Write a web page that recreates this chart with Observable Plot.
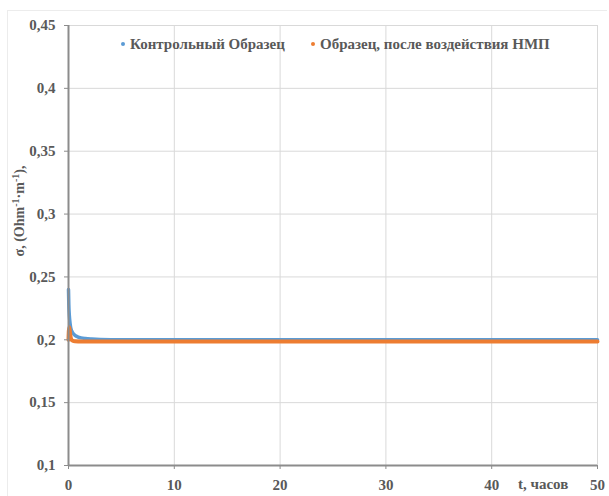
<!DOCTYPE html>
<html>
<head>
<meta charset="utf-8">
<script src="https://cdn.jsdelivr.net/npm/d3@7"></script>
<script src="https://cdn.jsdelivr.net/npm/@observablehq/plot@0.6"></script>
<style>
  html, body { margin: 0; padding: 0; background: #fff; }
  #wrap { position: relative; width: 609px; height: 496px; }
  #frame { position: absolute; left: 7px; top: 10px; width: 600px; height: 486px; border: 1px solid #ececec; border-bottom: none; border-right: none; box-sizing: border-box; }
  #chart { position: absolute; left: 0; top: 0; }
  #chart svg text { font-family: "Liberation Serif", "DejaVu Serif", serif !important; font-weight: bold; }
</style>
</head>
<body>
<div id="wrap"><div id="frame"></div><div id="chart"></div></div>
<script>
const seriesNames = ["Контрольный Образец", "Образец, после воздействия НМП"];
const controlT = [0, 0.03, 0.06, 0.1, 0.15, 0.2, 0.3, 0.4, 0.55, 0.7, 0.9, 1.2, 1.6, 2.2, 3, 5, 7, 10, 20, 23, 30, 40, 50];
const controlV = [0.240, 0.228, 0.222, 0.217, 0.213, 0.210, 0.207, 0.2055, 0.204, 0.203, 0.2022, 0.2015, 0.201, 0.2006, 0.2003, 0.2001, 0.2001, 0.2, 0.2, 0.2001, 0.2, 0.2, 0.2];
const treatedT = [0, 0.03, 0.08, 0.15, 0.25, 0.4, 0.6, 1, 2, 5, 10, 20, 30, 40, 50];
const treatedV = [0.200, 0.207, 0.210, 0.205, 0.2005, 0.1992, 0.1988, 0.1987, 0.1986, 0.1986, 0.1986, 0.1986, 0.1986, 0.1986, 0.1986];
const xTicks = [0, 10, 20, 30, 40, 50];
const yTicks = [0.1, 0.15, 0.2, 0.25, 0.3, 0.35, 0.4, 0.45];
const colors = ["#5b9bd5", "#ed7d31"];

const control = controlT.map((t, i) => ({t, v: controlV[i]}));
const treated = treatedT.map((t, i) => ({t, v: treatedV[i]}));
const fmt = d => String(d).replace(".", ",");
const font = "Liberation Serif, DejaVu Serif, serif";

const chart = Plot.plot({
  width: 609,
  height: 496,
  marginLeft: 68,
  marginRight: 12,
  marginTop: 25,
  marginBottom: 31,
  style: {fontFamily: font, fontWeight: "bold", color: "#595959", background: "transparent"},
  x: {domain: [0, 50], ticks: xTicks, tickFormat: fmt, label: null},
  y: {domain: [0.1, 0.45], ticks: yTicks, tickFormat: fmt, label: null},
  marks: [
    Plot.gridX(xTicks, {stroke: "#d9d9d9", strokeOpacity: 1}),
    Plot.gridY(yTicks, {stroke: "#d9d9d9", strokeOpacity: 1}),
    Plot.ruleX([50], {stroke: "#d9d9d9"}),
    Plot.line(control, {x: "t", y: "v", stroke: colors[0], strokeWidth: 3.5, curve: "monotone-x"}),
    Plot.line(treated, {x: "t", y: "v", stroke: colors[1], strokeWidth: 4, curve: "monotone-x"}),
    Plot.ruleX([0], {stroke: "#8c8c8c", strokeWidth: 2}),
    Plot.ruleY([0.1], {stroke: "#8c8c8c", strokeWidth: 2}),
    Plot.axisX({ticks: xTicks, tickFormat: fmt, tickSize: 4, tickPadding: 10, stroke: "#8c8c8c", label: null, fill: "#595959", fontSize: 15, fontWeight: "bold"}),
    Plot.axisY({ticks: yTicks, tickFormat: fmt, tickSize: 4, tickPadding: 9, stroke: "#8c8c8c", label: null, fill: "#595959", fontSize: 15, fontWeight: "bold"})
  ]
});
document.getElementById("chart").appendChild(chart);

const svg = d3.select(chart);
// Legend inside plot
const legend = [
  {x: 123, y: 44, name: seriesNames[0], color: colors[0]},
  {x: 313, y: 44, name: seriesNames[1], color: colors[1]}
];
for (const l of legend) {
  svg.append("circle").attr("cx", l.x).attr("cy", l.y).attr("r", 2).attr("fill", l.color);
  svg.append("text").attr("x", l.x + 7).attr("y", l.y).attr("dy", "0.35em").attr("text-anchor", "start")
    .attr("font-family", font).attr("font-size", 15).attr("font-weight", "bold").attr("fill", "#595959")
    .text(l.name);
}
// X axis label
svg.append("text").attr("x", 518).attr("y", 484).attr("dy", "0.35em").attr("text-anchor", "start")
  .attr("font-family", font).attr("font-size", 15).attr("font-weight", "bold").attr("fill", "#595959")
  .text("t, часов");
// Y axis label
const yl = svg.append("text").attr("transform", "translate(24,211) rotate(-90)").attr("text-anchor", "middle")
  .attr("font-family", font).attr("font-size", 14).attr("font-weight", "bold").attr("fill", "#595959");
yl.append("tspan").text("σ, (Ohm");
yl.append("tspan").attr("dy", -5).attr("font-size", 10).text("-1");
yl.append("tspan").attr("dy", 5).text("·m");
yl.append("tspan").attr("dy", -5).attr("font-size", 10).text("-1");
yl.append("tspan").attr("dy", 5).text("),");
</script>
</body>
</html>
